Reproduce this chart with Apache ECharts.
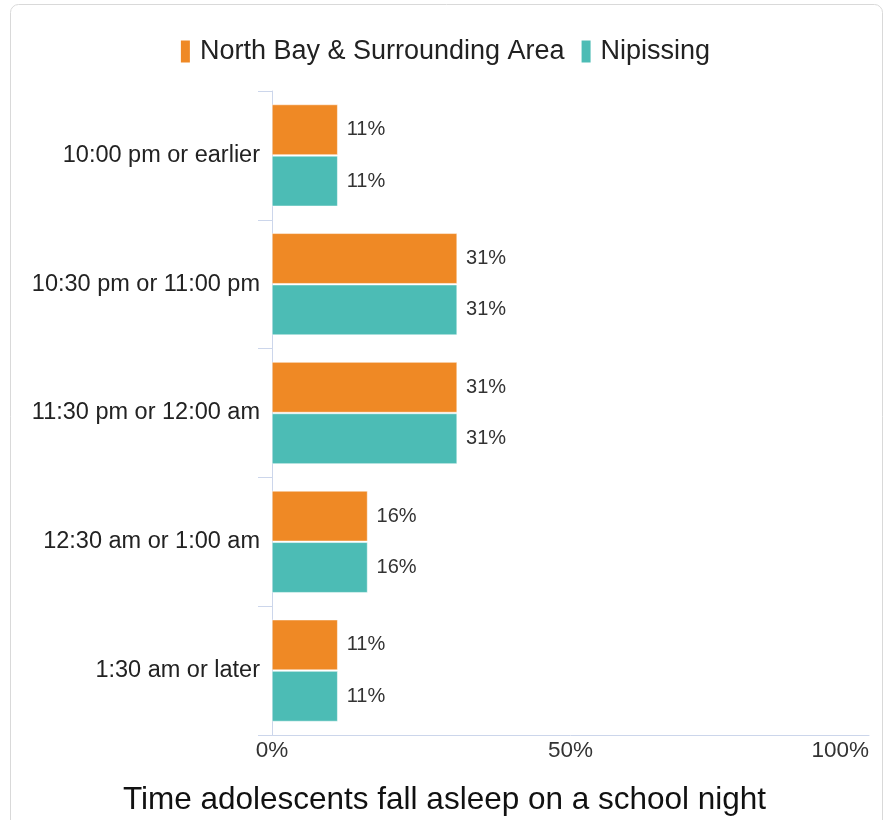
<!DOCTYPE html>
<html>
<head>
<meta charset="utf-8">
<script src="https://cdn.jsdelivr.net/npm/echarts@6/dist/echarts.min.js"></script>
<style>
html,body{margin:0;padding:0;background:#fff;}
#chart{width:889px;height:820px;}
</style>
</head>
<body>
<div id="chart"></div>
<script>
const categories = ["10:00 pm or earlier", "10:30 pm or 11:00 pm", "11:30 pm or 12:00 am", "12:30 am or 1:00 am", "1:30 am or later"];
const seriesNames = ["North Bay & Surrounding Area", "Nipissing"];
const northBay = [11, 31, 31, 16, 11];
const nipissing = [11, 31, 31, 16, 11];
const xTicks = [0, 50, 100];
const chartTitle = "Time adolescents fall asleep on a school night";

const font = "'Liberation Sans', Arial, sans-serif";
const chart = echarts.init(document.getElementById('chart'), null, {renderer: 'canvas'});

function barSeries(name, data, color) {
  return {
    name: name,
    type: 'bar',
    data: data,
    barGap: '2%',
    barCategoryGap: '21%',
    itemStyle: {color: color, borderColor: '#ffffff', borderWidth: 0.5},
    label: {
      show: true,
      position: 'right',
      distance: 9,
      formatter: p => p.value + '%',
      fontFamily: font,
      fontSize: 20,
      color: '#333333'
    },
    emphasis: {disabled: true}
  };
}

chart.setOption({
  animation: false,
  textStyle: {fontFamily: font},
  graphic: [{
    type: 'rect',
    shape: {x: 10.5, y: 4.5, width: 872, height: 830, r: 8},
    style: {fill: 'none', stroke: '#d9d9d9', lineWidth: 1},
    silent: true,
    z: -10
  }],
  title: {
    text: chartTitle,
    left: 'center',
    bottom: -1,
    textStyle: {fontFamily: font, fontSize: 31.5, fontWeight: 'normal', color: '#111111'}
  },
  legend: {
    top: 33,
    left: 'center',
    itemWidth: 11,
    itemHeight: 24,
    itemGap: 15,
    icon: 'rect',
    textStyle: {fontFamily: font, fontSize: 27, color: '#222222', padding: [0, 0, 0, 4]},
    data: seriesNames
  },
  grid: {left: 272, right: 20, top: 91, bottom: 85, containLabel: false},
  xAxis: {
    type: 'value',
    min: 0,
    max: 100,
    interval: 50,
    axisLine: {show: true, lineStyle: {color: '#ccd6eb', width: 1}},
    axisTick: {show: false},
    splitLine: {show: false},
    axisLabel: {
      formatter: v => xTicks.includes(v) ? v + '%' : '',
      fontFamily: font,
      fontSize: 22.5,
      color: '#333333',
      margin: 4,
      alignMaxLabel: 'right'
    }
  },
  yAxis: {
    type: 'category',
    data: categories,
    inverse: true,
    axisLine: {show: true, lineStyle: {color: '#ccd6eb', width: 1}},
    axisTick: {show: true, length: 14, lineStyle: {color: '#ccd6eb'}},
    axisLabel: {fontFamily: font, fontSize: 23.5, color: '#222222', margin: 12}
  },
  series: [
    barSeries(seriesNames[0], northBay, '#ef8925'),
    barSeries(seriesNames[1], nipissing, '#4cbcb5')
  ]
});
</script>
</body>
</html>
